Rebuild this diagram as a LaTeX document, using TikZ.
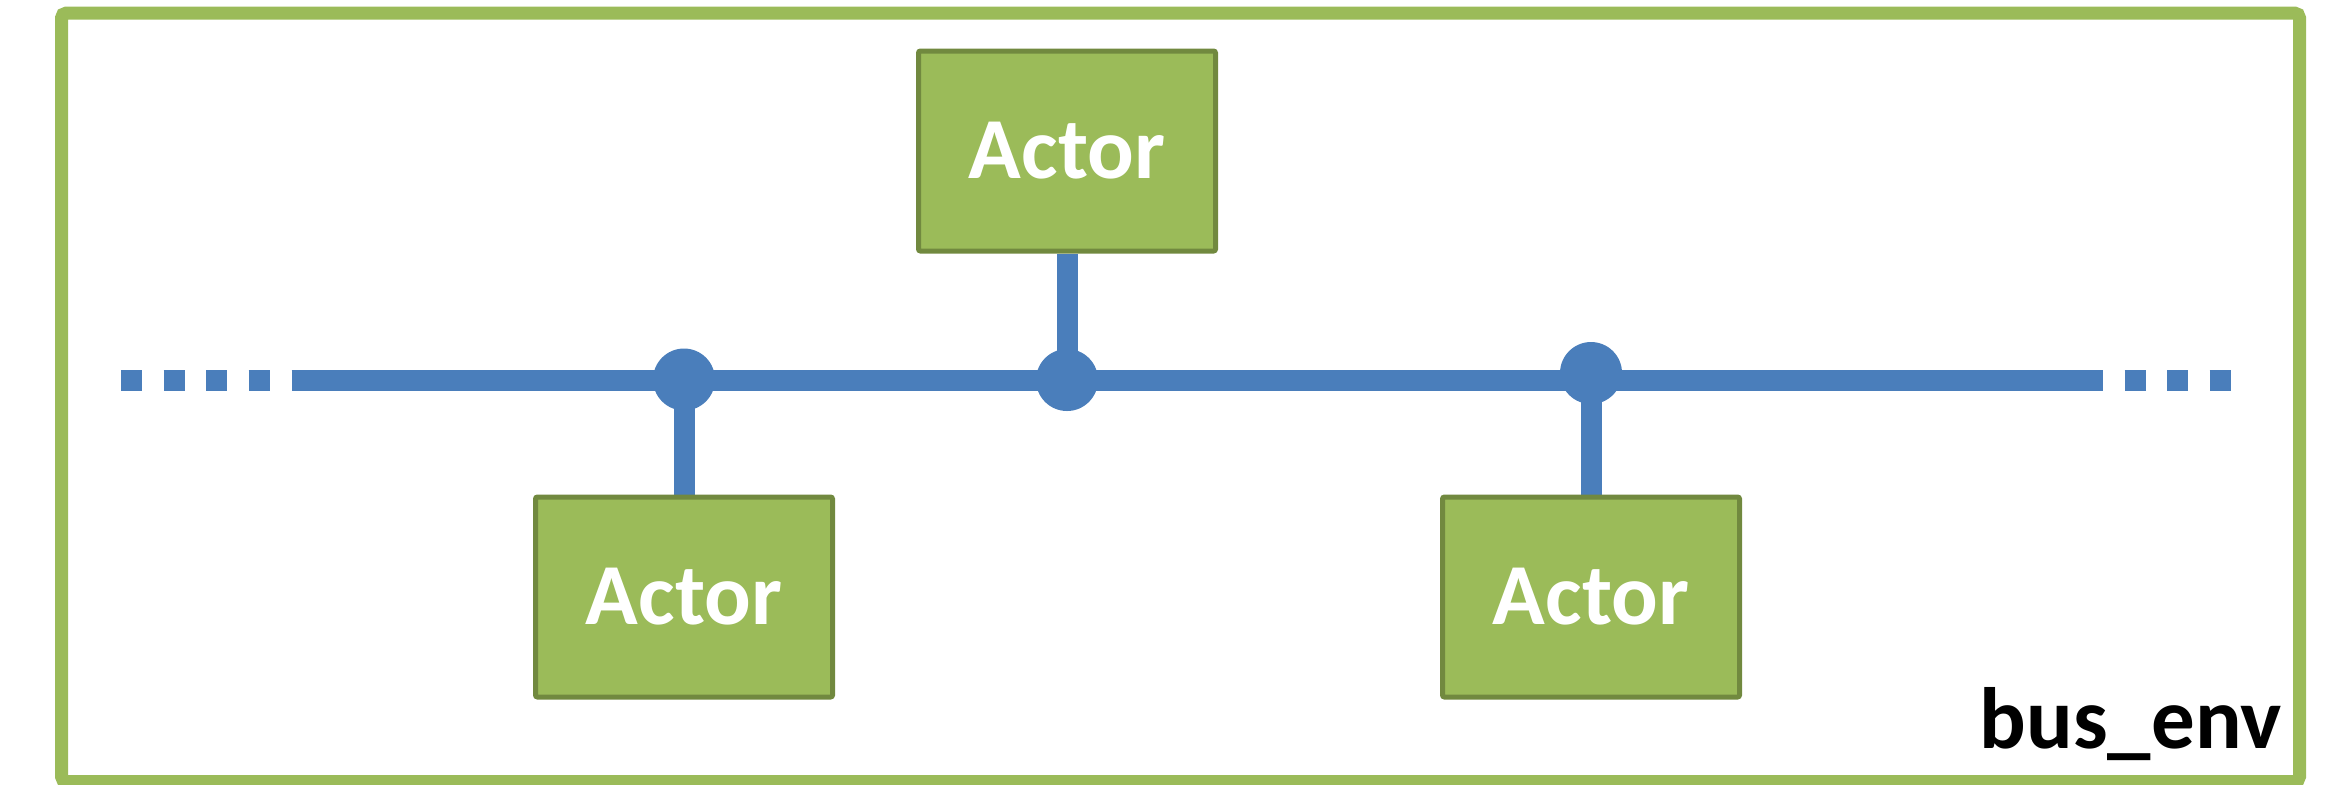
\documentclass[tikz,border=0pt]{standalone}
\usepackage{fontspec}
\setmainfont{Carlito}
\usetikzlibrary{backgrounds}
\definecolor{envGreen}{HTML}{9BBB59}
\definecolor{boxEdge}{HTML}{71893F}
\definecolor{busBlue}{HTML}{4A7EBB}
\begin{document}
\begin{tikzpicture}[x=0.5pt,y=-0.5pt,
  actor/.style={draw=boxEdge, line width=2.5pt, fill=envGreen, rounded corners=1pt,
    minimum width=148.5pt, minimum height=100pt, inner sep=0pt, text=white,
    font=\fontsize{43.5}{50}\selectfont\bfseries},
  junction/.style={circle, fill=busBlue, minimum size=31pt, inner sep=0pt},
  busline/.style={draw=busBlue, line width=10.5pt},
  dots/.style={busline, dash pattern=on 10.5pt off 10.75pt},
  stem/.style={draw=busBlue, line width=10.5pt},
  envframe/.style={draw=envGreen, line width=6.5pt, rounded corners=2.5pt}]
\useasboundingbox (0,0) rectangle (2332,784);
\clip (0,0) rectangle (2332,784);

% actors and their junctions on the bus
\node[actor] (top)   at (1067,151) {Actor};
\node[actor] (left)  at (684,597)  {Actor};
\node[actor] (right) at (1591,597) {Actor};

\node[junction] (jl) at (684,379.5) {};
\node[junction] (jt) at (1067,380) {};
\node[junction] (jr) at (1591,373) {};

\node[anchor=base east, inner sep=0pt, font=\fontsize{43.5}{50}\selectfont\bfseries] (envname) at (2282,748) {bus\_env};

% bus ends
\coordinate (dotsW) at (121,380);
\coordinate (busW)  at (270,380);
\coordinate (solidW) at (291.7,380);
\coordinate (busE)  at (2082,380);
\coordinate (dotsE) at (2231,380);

\begin{scope}[on background layer]
  \draw[envframe] (61.5,13) rectangle (2299.5,781.5);
  \draw[busline] (solidW) -- (busE);
  \draw[dots] (dotsW) -- (busW);
  \draw[dots] (busE) -- (dotsE);
  \draw[stem] (jt.center) -- (top.south);
  \draw[stem] (jl.center) -- (left.north);
  \draw[stem] (jr.center) -- (right.north);
\end{scope}
\end{tikzpicture}
\end{document}
